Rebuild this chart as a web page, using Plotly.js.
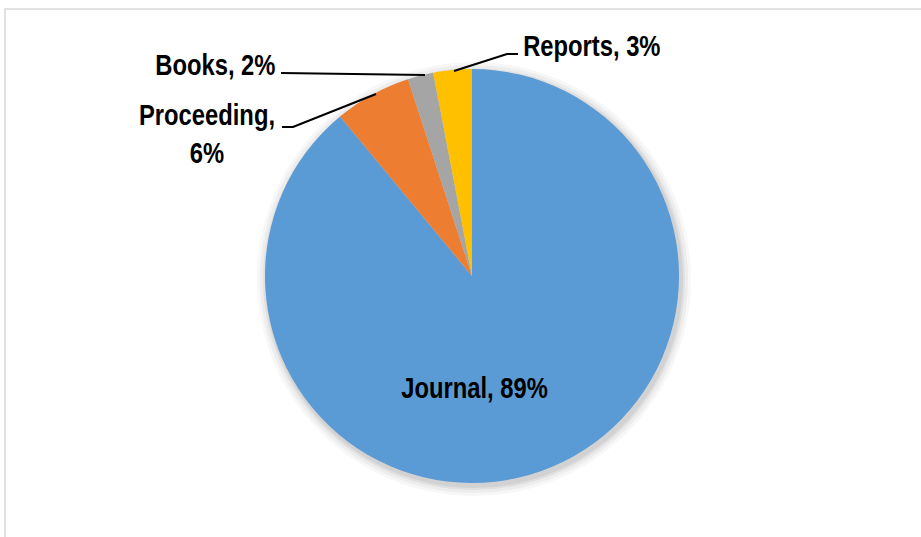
<!DOCTYPE html>
<html>
<head>
<meta charset="utf-8">
<script src="https://cdn.plot.ly/plotly-3.0.1.min.js"></script>
<style>
html,body{margin:0;padding:0;background:#fff;}
#chart{width:921px;height:537px;}
</style>
</head>
<body>
<div id="chart"></div>
<script>
// ---- data ----
const categories = ["Journal", "Proceeding", "Books", "Reports"];
const shares = [89, 6, 2, 3];
const sliceColors = ["#5B9BD5", "#ED7D31", "#A5A5A5", "#FFC000"];

// ---- layout helpers ----
const W = 921, H = 537;
const px = x => x / W;
const py = y => 1 - y / H;
const FONT = "'Liberation Sans Narrow', 'Arial Narrow', 'Liberation Sans', Arial, sans-serif";
const NARROW = 0.82; // horizontal condensing of label text

// pie geometry (pixels)
const cx = 472, cy = 276, r = 207;

// label placement (pixels) and line breaks
const labelPos = [[474, 388], [207, 134], [215, 65], [592, 46]];
const labelBreak = [false, true, false, false];
const leaders = [
  null,
  [[282, 127], [293, 127], [376, 94]],
  [[281, 73], [425, 75]],
  [[518, 54], [507, 54], [454, 71]]
];

const annotations = categories.map((c, i) => ({
  text: c + "," + (labelBreak[i] ? "<br>" : " ") + shares[i] + "%",
  x: px(labelPos[i][0]), y: py(labelPos[i][1]),
  xref: "paper", yref: "paper",
  xanchor: "center", yanchor: "middle",
  showarrow: false, align: "center",
  font: {family: FONT, size: 29, color: "#000", weight: "bold"}
}));

const shapes = [];
// frame
shapes.push({type: "rect", xref: "paper", yref: "paper",
  x0: px(5), x1: 1.02, y0: -0.02, y1: py(9),
  line: {color: "#d9d9d9", width: 1.5}, fillcolor: "rgba(0,0,0,0)", layer: "below"});
// soft shadow
[[10, 0.03], [7, 0.04], [4, 0.05], [2, 0.06]].forEach(([g, a]) => {
  shapes.push({type: "circle", xref: "paper", yref: "paper",
    x0: px(cx - r - g + 2), x1: px(cx + r + g + 2),
    y0: py(cy + r + g + 3), y1: py(cy - r - g + 3),
    line: {width: 0}, fillcolor: "rgba(0,0,0," + a + ")", layer: "below"});
});
// leader lines
leaders.forEach(pts => {
  if (!pts) return;
  const d = pts.map((p, k) => (k ? "L" : "M") + px(p[0]) + "," + py(p[1])).join(" ");
  shapes.push({type: "path", xref: "paper", yref: "paper", path: d,
    line: {color: "#000", width: 2.2}});
});

const trace = {
  type: "pie",
  labels: categories,
  values: shares,
  sort: false,
  direction: "clockwise",
  rotation: 0,
  marker: {colors: sliceColors, line: {width: 0}},
  textinfo: "none",
  hoverinfo: "label+percent",
  showlegend: false,
  domain: {x: [px(cx - r), px(cx + r)], y: [py(cy + r), py(cy - r)]}
};

const layout = {
  width: W, height: H,
  margin: {l: 0, r: 0, t: 0, b: 0},
  paper_bgcolor: "#ffffff",
  showlegend: false,
  annotations: annotations,
  shapes: shapes
};

Plotly.newPlot("chart", [trace], layout, {displayModeBar: false, staticPlot: true}).then(gd => {
  gd.querySelectorAll("text.annotation-text").forEach(t => {
    const b = t.getBBox();
    const c = b.x + b.width / 2;
    t.setAttribute("transform",
      "translate(" + c + ",0) scale(" + NARROW + ",1) translate(" + (-c) + ",0)");
  });
});
</script>
</body>
</html>
